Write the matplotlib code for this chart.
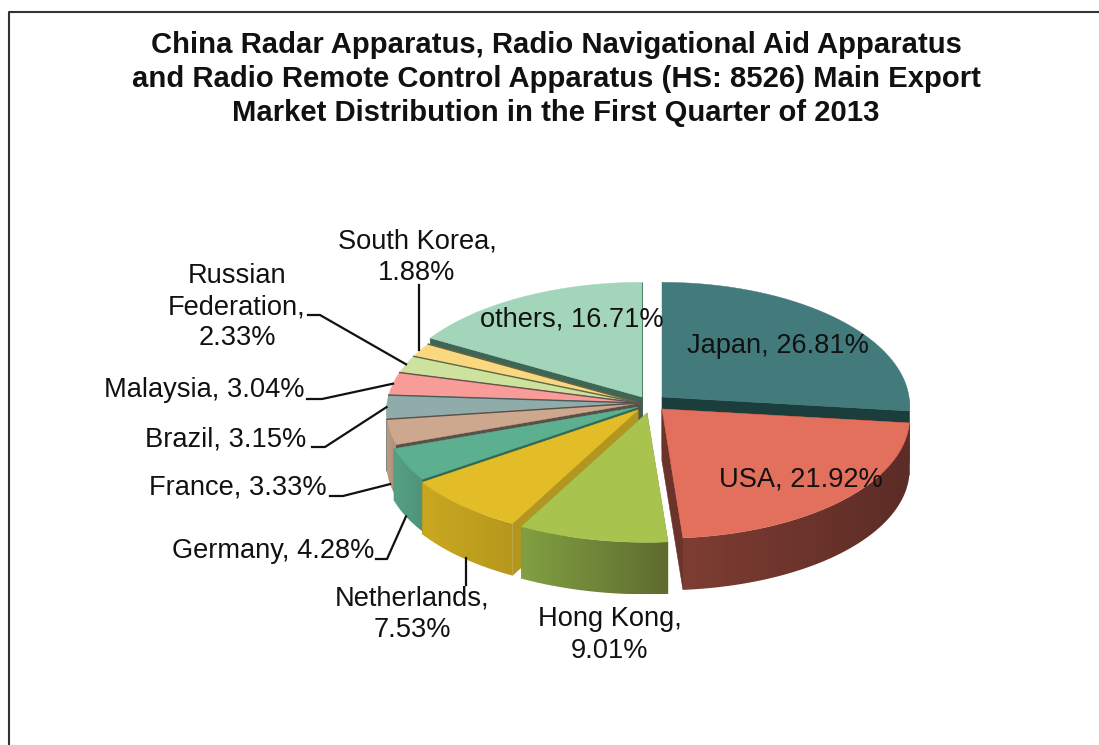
import numpy as np
import matplotlib
matplotlib.use("Agg")
import matplotlib.pyplot as plt
from matplotlib.colors import to_rgb
from matplotlib.patches import Polygon

plt.rcParams["font.family"] = ["Liberation Sans", "DejaVu Sans"]

# export share per market, in percent, clockwise from 12 o'clock
countries = ["Japan", "USA", "Hong Kong", "Netherlands", "Germany", "France",
             "Brazil", "Malaysia", "Russian Federation", "South Korea", "others"]
shares = [26.81, 21.92, 9.01, 7.53, 4.28, 3.33, 3.15, 3.04, 2.33, 1.88, 16.71]
title = ("China Radar Apparatus, Radio Navigational Aid Apparatus\n"
         "and Radio Remote Control Apparatus (HS: 8526) Main Export\n"
         "Market Distribution in the First Quarter of 2013")

top_colors = ["#437B7D", "#E36F5D", "#A9C34F", "#E3BD28", "#5CB08F", "#CDA78E",
              "#8FABAA", "#F79C98", "#CDE29C", "#FAD87F", "#A2D5B9"]
cut_colors = ["#1B3E3D", "#6B3329", "#7E9540", "#B3961F", "#2F6A55", "#5A5048",
              "#4A5A5A", "#6A5050", "#5F6A48", "#6A6040", "#3E6655"]
wall_left = ["#244A4A", "#7E3D32", "#82A042", "#C9A821", "#56A083", "#BC9A82",
             "#7F9A99", "#D98A86", "#B5C98A", "#DDBF70", "#8FBFA5"]
wall_right = ["#1B3E3D", "#5C2C26", "#5E6C2F", "#B8981C", "#4E9478", "#AE8F78",
              "#7F9A99", "#D98A86", "#B5C98A", "#DDBF70", "#8FBFA5"]

# wedge tip of each exploded slice, in pixels
GROUP_TIP = (640, 403)
tips = [(662, 397), (662, 409), (647, 413), (638, 410), (638, 407), GROUP_TIP,
        GROUP_TIP, GROUP_TIP, GROUP_TIP, GROUP_TIP, (642, 397)]
draw_order = [10, 9, 8, 7, 6, 5, 4, 3, 0, 1, 2]

RX_LEFT, RX_RIGHT, RY = 253, 247, 122
PERSP_X, PERSP_Y = 0.07, 0.06
DEPTH = 52


def rim(theta, tip):
    """Point on the pie rim at angle theta (deg clockwise from the top)."""
    t = np.radians(theta)
    near = -np.cos(t)
    rx = RX_RIGHT if np.sin(t) > 0 else RX_LEFT
    x = tip[0] + rx * np.sin(t) * (1 + PERSP_X * near)
    y = tip[1] + RY * near * (1 + PERSP_Y * near)
    return x, y


def draw_face(ax, p0, p1, color, z):
    xs = [p0[0], p1[0], p1[0], p0[0]]
    ys = [p0[1], p1[1], p1[1] + DEPTH, p0[1] + DEPTH]
    ax.fill(xs, ys, color=color, lw=0.4, zorder=z)


def draw_wall(ax, a0, a1, tip, left, right, z):
    # outer wall only shows on the near half, shaded from left to right
    a0, a1 = max(a0, 90), min(a1, 270)
    if a1 <= a0:
        return
    upper = np.array([rim(a, tip) for a in np.linspace(a0, a1, 80)])
    lower = upper[::-1] + [0, DEPTH]
    outline = np.vstack([upper, lower])
    mix = np.linspace(0, 1, 128)[None, :, None]
    shade = np.array(to_rgb(left))[None, None, :] * (1 - mix) + np.array(to_rgb(right))[None, None, :] * mix
    extent = (outline[:, 0].min(), outline[:, 0].max(), outline[:, 1].max(), outline[:, 1].min())
    im = ax.imshow(shade, extent=extent, aspect="auto", zorder=z, interpolation="bilinear")
    im.set_clip_path(Polygon(outline, transform=ax.transData))


fig = plt.figure(figsize=(10.99, 7.45), dpi=100)
ax = fig.add_axes([0, 0, 1, 1])
ax.axis("off")

# chart frame, open on the right and at the bottom
ax.plot([9, 9, 1099], [745, 12, 12], color="#333333", lw=1.5, zorder=1)

edges = np.concatenate([[0], np.cumsum(shares)]) * 360 / np.sum(shares)

for rank, i in enumerate(draw_order):
    z = 2 + rank
    a0, a1 = edges[i], edges[i + 1]
    tip = tips[i]
    draw_face(ax, tip, rim(a1, tip), cut_colors[i], z)
    draw_face(ax, tip, rim(a0, tip), cut_colors[i], z)
    draw_wall(ax, a0, a1, tip, wall_left[i], wall_right[i], z)
    arc = [rim(a, tip) for a in np.linspace(a0, a1, 80)]
    ax.fill([tip[0]] + [p[0] for p in arc], [tip[1]] + [p[1] for p in arc],
            color=top_colors[i], lw=0.3, zorder=z)
    if tip is GROUP_TIP:
        ax.plot(*zip(tip, rim(a1, tip)), color=cut_colors[i], lw=1.0, zorder=z)

# leader lines start on the rim at the middle of their slice;
# a single end point means a straight vertical line
mid = (edges[:-1] + edges[1:]) / 2
leaders = {
    "South Korea": (0, [(419, 285)]),
    "Russian Federation": (0, [(320, 315), (308, 315)]),
    "Malaysia": (0, [(322, 399), (307, 399)]),
    "Brazil": (0, [(325, 447), (312, 447)]),
    "France": (DEPTH, [(343, 496), (330, 496)]),
    "Germany": (DEPTH, [(387, 559), (376, 559)]),
    "Netherlands": (DEPTH, [(466, 585)]),
}
for name, (drop, elbow) in leaders.items():
    i = countries.index(name)
    x0, y0 = rim(mid[i], tips[i])
    if len(elbow) == 1:
        x0 = elbow[0][0]
    xs = [x0] + [p[0] for p in elbow]
    ys = [y0 + drop] + [p[1] for p in elbow]
    ax.plot(xs, ys, color="#111111", lw=1.6, zorder=20)

ax.text(556, 79, title, ha="center", va="center", fontsize=21.1, fontweight="bold",
        color="#111111", linespacing=1.27, zorder=30)


def label(name, x, y, ha="center", wrap=None):
    i = countries.index(name)
    text = wrap if wrap else f"{name}, {shares[i]:.2f}%"
    ax.text(x, y, text, ha=ha, va="center", fontsize=19.6, color="#111111",
            linespacing=1.27, zorder=30)


label("South Korea", 417, 257, wrap=f"South Korea,\n{shares[9]:.2f}%")
label("Russian Federation", 237, 307, wrap=f"Russian\nFederation,\n{shares[8]:.2f}%")
label("Malaysia", 304, 390, ha="right")
label("Brazil", 306, 439, ha="right")
label("France", 327, 488, ha="right")
label("Germany", 374, 551, ha="right")
label("Netherlands", 412, 614, wrap=f"Netherlands,\n{shares[3]:.2f}%")
label("Hong Kong", 610, 635, wrap=f"Hong Kong,\n{shares[2]:.2f}%")
label("others", 572, 319)
label("Japan", 778, 346)
label("USA", 801, 480)

ax.set_xlim(0, 1099)
ax.set_ylim(745, 0)
fig.savefig("out.png", dpi=100)
plt.close(fig)
